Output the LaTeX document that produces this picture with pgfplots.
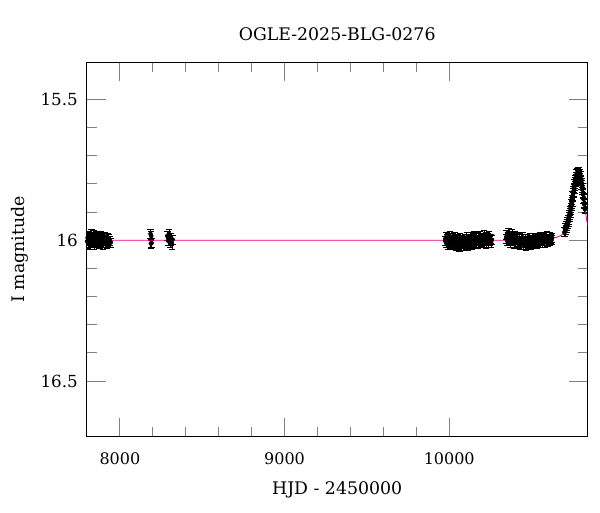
\documentclass[border=0pt]{standalone}
\usepackage{fontspec}
\setmainfont{DejaVu Serif}
\usepackage{pgfplots}
\pgfplotsset{compat=1.18}
\begin{document}
\begin{tikzpicture}
\path[use as bounding box] (0,0) rectangle (450pt,384pt);
\begin{axis}[
  at={(65pt,56.5pt)}, anchor=south west,
  scale only axis, width=375.75pt, height=280.8pt,
  xmin=7798, xmax=10841, ymin=15.369, ymax=16.697, y dir=reverse,
  xtick={8000,9000,10000}, minor x tick num=4,
  ytick={15.5,16,16.5}, minor y tick num=4,
  scaled x ticks=false, scaled y ticks=false,
  tick align=inside, xtick pos=both, ytick pos=both,
  major tick length=14.25pt, minor tick length=7.5pt,
  every tick/.style={draw=gray, line width=0.7pt},
  axis line style={black, line width=0.75pt},
  /pgf/number format/assume math mode=true,
  /pgf/number format/1000 sep={},
  xticklabel pos=lower, yticklabel pos=left,
  xticklabel style={font=\fontsize{12}{14}\selectfont, anchor=base, inner sep=0pt, yshift=-21.2pt},
  yticklabel style={font=\fontsize{12.5}{14}\selectfont, anchor=east, inner sep=0pt, xshift=-6.5pt},
  title={OGLE-2025-BLG-0276},
  every axis title/.style={at={(axis description cs:0.5,1)}, anchor=base, yshift=16.7pt, font=\fontsize{13}{15}\selectfont},
  xlabel={HJD - 2450000},
  every axis x label/.style={at={(axis description cs:0.5,0)}, anchor=base, yshift=-43.7pt, font=\fontsize{13}{15}\selectfont},
  ylabel={I magnitude},
  every axis y label/.style={at={(axis description cs:-0.1238,0.5)}, rotate=90, anchor=base, font=\fontsize{13}{15}\selectfont},
]
\addplot[only marks, mark=*, mark size=1.5pt, black,
  error bars/.cd, y dir=both, y fixed=0.016,
  error bar style={black, line width=0.6pt},
  error mark options={black, rotate=90, mark size=2.4pt, line width=0.6pt}]
table {
x y
7801 16.004
7804 15.991
7807 16.012
7810 15.985
7813 16.008
7816 15.996
7819 16.017
7822 15.989
7825 16.002
7828 15.979
7831 16.010
7834 15.994
7837 16.006
7840 15.983
7843 16.015
7846 15.998
7849 16.003
7852 15.988
7855 16.011
7858 15.993
7861 16.007
7864 15.986
7867 16.001
7870 15.996
7873 16.013
7876 15.990
7880 16.005
7884 15.984
7888 16.009
7892 15.997
7896 16.016
7900 15.992
7904 16.004
7908 15.987
7912 16.010
7916 15.999
7920 16.013
7924 15.991
7928 16.006
7932 15.995
7936 16.011
7940 16.002
7944 16.008
8186 15.978
8188 16.012
8190 15.985
8192 16.010
8288 15.985
8293 16.002
8298 15.978
8304 16.010
8310 15.992
8316 16.015
8320 15.998
9975 16.002
9979 15.990
9983 16.011
9987 15.996
9991 16.018
9995 15.993
9999 16.006
10003 15.985
10007 16.013
10011 15.999
10015 16.009
10019 15.991
10023 16.016
10027 16.003
10031 15.988
10035 16.012
10039 15.997
10043 16.021
10047 16.005
10051 15.994
10055 16.015
10059 16.000
10063 16.024
10067 15.992
10071 16.010
10075 16.019
10079 15.998
10083 16.014
10087 16.004
10091 16.022
10095 15.995
10099 16.011
10103 16.017
10107 15.990
10111 16.008
10115 16.020
10119 15.996
10123 16.013
10127 16.002
10131 15.987
10135 16.010
10139 16.016
10143 15.993
10147 16.006
10151 15.984
10155 16.012
10159 15.999
10163 16.008
10167 15.989
10171 16.004
10175 16.014
10179 15.992
10183 16.001
10187 15.986
10191 16.011
10195 15.997
10199 16.006
10203 15.991
10207 16.009
10211 15.983
10215 16.003
10219 15.995
10223 16.012
10227 15.988
10231 16.001
10235 15.993
10239 16.008
10243 15.985
10247 16.004
10251 15.996
10255 16.010
10258 15.999
10345 15.994
10349 15.981
10353 16.003
10357 15.988
10361 15.976
10365 16.000
10369 15.985
10373 16.008
10377 15.991
10381 15.979
10385 16.004
10389 15.993
10393 16.012
10397 15.986
10401 15.999
10405 16.010
10409 15.989
10413 16.006
10417 15.995
10421 16.014
10425 15.992
10429 16.003
10433 16.018
10437 15.997
10441 16.008
10445 15.990
10449 16.015
10453 16.001
10457 16.011
10461 15.994
10465 16.019
10469 16.005
10473 15.996
10477 16.013
10481 16.002
10485 16.016
10489 15.993
10493 16.009
10497 16.017
10501 15.998
10505 16.007
10509 15.991
10513 16.012
10517 16.003
10521 15.995
10525 16.010
10529 15.999
10533 16.014
10537 15.992
10541 16.006
10545 15.997
10549 16.009
10553 15.990
10557 16.004
10561 15.996
10565 16.011
10569 15.993
10573 16.002
10577 15.988
10581 16.008
10585 15.997
10589 16.003
10593 15.985
10597 16.006
10601 15.994
10605 16.001
10609 15.989
10613 16.004
10617 15.996
10621 16.000
10625 15.992
10700 15.972
10702 15.958
10704 15.969
10706 15.955
10708 15.963
10710 15.949
10712 15.958
10714 15.942
10716 15.951
10718 15.936
10720 15.944
10722 15.927
10724 15.936
10726 15.919
10728 15.928
10730 15.909
10732 15.916
10734 15.897
10736 15.905
10738 15.884
10740 15.891
10742 15.870
10744 15.878
10746 15.857
10748 15.863
10750 15.842
10752 15.848
10754 15.827
10756 15.832
10758 15.813
10760 15.818
10762 15.800
10764 15.806
10766 15.788
10768 15.793
10770 15.777
10772 15.783
10774 15.766
10776 15.774
10778 15.761
10780 15.765
10782 15.760
10784 15.770
10786 15.757
10788 15.768
10790 15.759
10792 15.773
10794 15.764
10796 15.779
10798 15.772
10800 15.791
10802 15.785
10804 15.804
10806 15.798
10808 15.820
10810 15.814
10812 15.837
10814 15.832
10816 15.855
10818 15.850
10820 15.873
10822 15.868
10824 15.890
10826 15.886
};
\addplot[magenta, line width=0.6pt] coordinates {
(7798,16.000) (10400,16.000) (10600,15.996) (10650,15.990) (10680,15.983)
(10695,15.975) (10710,15.962) (10720,15.945) (10730,15.925) (10740,15.895)
(10750,15.860) (10760,15.822) (10770,15.790) (10778,15.770) (10785,15.763)
(10790,15.764) (10797,15.775) (10804,15.797) (10811,15.825) (10818,15.857)
(10826,15.893) (10834,15.925) (10841,15.947)
};
\end{axis}
\end{tikzpicture}
\end{document}
